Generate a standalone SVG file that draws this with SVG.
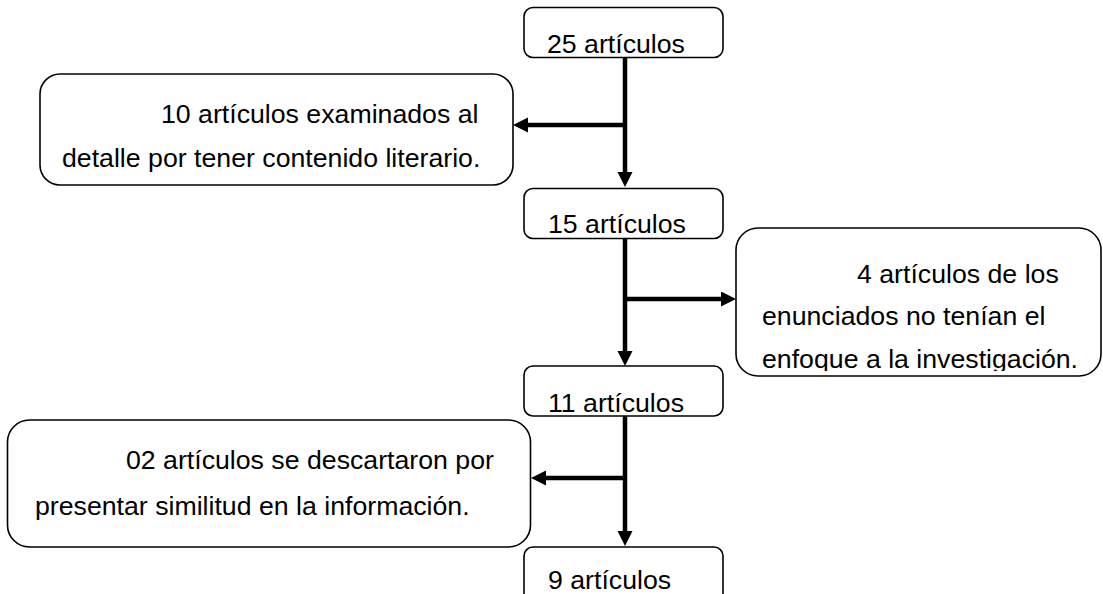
<svg xmlns="http://www.w3.org/2000/svg" width="1103" height="594" viewBox="0 0 1103 594">
<defs>
<style>
.box{fill:#fff;stroke:#000;stroke-width:1.6}
.t{font-family:"Liberation Sans",Arial,sans-serif;font-size:26.7px;fill:#000}
.c{stroke:#000;stroke-width:4.5;fill:none;marker-end:url(#ah)}
</style>
<marker id="ah" markerWidth="16" markerHeight="16" refX="3" refY="7.5" orient="auto" markerUnits="userSpaceOnUse"><path d="M0,0 L15,7.5 L0,15 z" fill="#000"/></marker>
<clipPath id="clipR"><rect x="736" y="228" width="367" height="143"/></clipPath>
</defs>
<rect width="1103" height="594" fill="#fff"/>
<g id="connectors">
<line class="c" x1="625" y1="57" x2="625" y2="175"/>
<line class="c" x1="625" y1="125" x2="525" y2="125"/>
<line class="c" x1="625" y1="238" x2="625" y2="354"/>
<line class="c" x1="623" y1="299" x2="724" y2="299"/>
<line class="c" x1="625" y1="416" x2="625" y2="534"/>
<line class="c" x1="627" y1="478" x2="543" y2="478"/>
</g>
<g id="n25">
<rect class="box" x="524" y="7.5" width="199" height="50" rx="9"/>
<text class="t" x="547" y="53">25 artículos</text>
</g>
<g id="n10">
<rect class="box" x="40" y="74" width="473" height="111" rx="20"/>
<text class="t" x="161" y="123">10 artículos examinados al</text>
<text class="t" x="62" y="167">detalle por tener contenido literario.</text>
</g>
<g id="n15">
<rect class="box" x="524" y="188.5" width="199" height="50" rx="9"/>
<text class="t" x="548" y="233">15 artículos</text>
</g>
<g id="n4">
<rect class="box" x="736" y="228" width="365" height="148" rx="22"/>
<g clip-path="url(#clipR)">
<text class="t" x="857" y="283">4 artículos de los</text>
<text class="t" x="762" y="325">enunciados no tenían el</text>
<text class="t" x="762" y="368">enfoque a la investigación.</text>
</g>
</g>
<g id="n11">
<rect class="box" x="524" y="366" width="199" height="50" rx="9"/>
<text class="t" x="548" y="412">11 artículos</text>
</g>
<g id="n02">
<rect class="box" x="7.5" y="420" width="523" height="127" rx="22"/>
<text class="t" x="126" y="469">02 artículos se descartaron por</text>
<text class="t" x="35" y="515">presentar similitud en la información.</text>
</g>
<g id="n9">
<path class="box" d="M524,600 V556 A9,9 0 0 1 533,547 H714 A9,9 0 0 1 723,556 V600"/>
<text class="t" x="548" y="589">9 artículos</text>
</g>
</svg>
